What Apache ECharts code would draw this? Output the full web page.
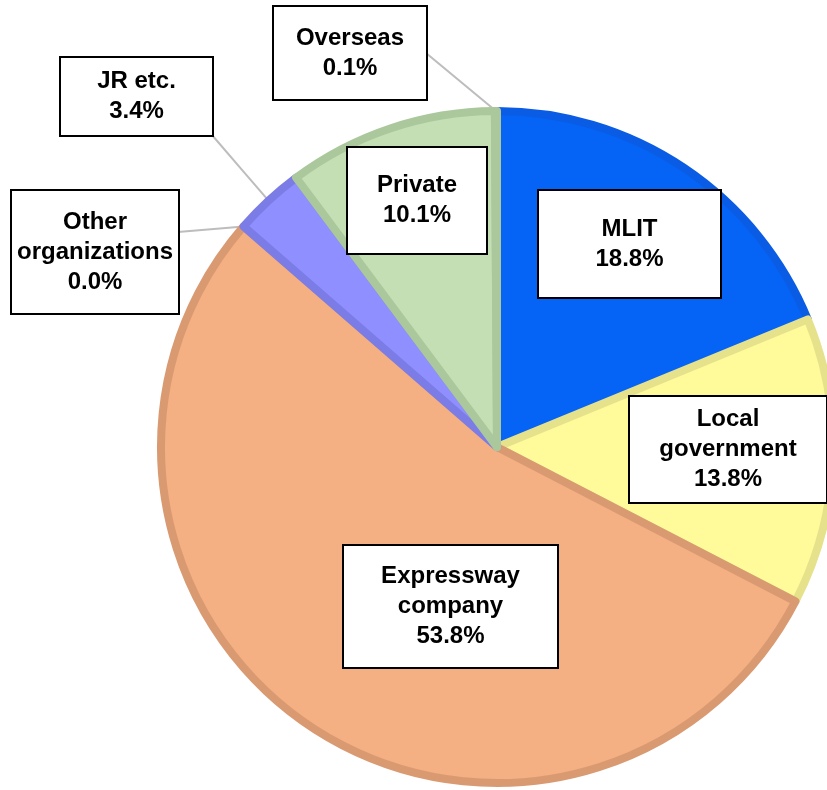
<!DOCTYPE html>
<html>
<head>
<meta charset="utf-8">
<title>Share by organization</title>
<script src="https://cdn.jsdelivr.net/npm/echarts@6/dist/echarts.min.js"></script>
<style>
  html, body { margin: 0; padding: 0; background: #ffffff; }
  #chart { width: 827px; height: 790px; }
</style>
</head>
<body>
<div id="chart"></div>
<script>
// Organizations, clockwise from the top of the pie
const categories = ['MLIT', 'Local government', 'Expressway company', 'Other organizations', 'JR etc.', 'Private', 'Overseas'];
// Text shown in each label box (line breaks as set in the boxes)
const labelNames = ['MLIT', 'Local\ngovernment', 'Expressway\ncompany', 'Other\norganizations', 'JR etc.', 'Private', 'Overseas'];
// Share of each organization, percent
const shares = [18.8, 13.8, 53.8, 0.0, 3.4, 10.1, 0.1];

// Slice fill and outline colours
const fillColors   = ['#0563f5', '#fffb9a', '#f4af82', '#f4af82', '#8f8fff', '#c5dfb5', '#c5dfb5'];
const borderColors = ['#0a5ce4', '#e6e28c', '#d99a72', '#d99a72', '#7c7ce6', '#abc89c', '#abc89c'];

// Label box placement: centre x, centre y, width, height (px)
const labelBoxes = [
  [629.5, 244, 181, 106],
  [728, 449.5, 196, 105],
  [450.5, 606.5, 213, 121],
  [95, 252, 166, 122],
  [136.5, 96.5, 151, 77],
  [417, 200.5, 138, 105],
  [350, 53, 152, 92]
];
// Where leader lines meet their label boxes (only for small slices)
const leaderEnds = { 3: [178, 232], 4: [212, 135], 6: [426, 53] };

const LINE_H = 30;
const CENTER = [497, 447];
const RADIUS = 336;
const BORDER_W = 8;

const data = categories.map((name, i) => {
  const [cx, cy, w, h] = labelBoxes[i];
  const lines = labelNames[i].split('\n').length + 1;
  const padV = Math.max(0, (h - lines * LINE_H) / 2);
  return {
    name: name,
    value: shares[i],
    itemStyle: {
      color: fillColors[i],
      borderColor: borderColors[i],
      borderWidth: shares[i] > 0 ? BORDER_W : 0
    },
    label: {
      width: w,
      padding: [padV, 0, Math.max(0, h - lines * LINE_H - padV), 0]
    },
    labelLine: { show: leaderEnds[i] != null }
  };
});

const chart = echarts.init(document.getElementById('chart'), null, { renderer: 'canvas' });

chart.setOption({
  backgroundColor: '#ffffff',
  animation: false,
  textStyle: { fontFamily: 'Liberation Sans, Arial, sans-serif' },
  series: [{
    type: 'pie',
    center: CENTER,
    radius: RADIUS,
    startAngle: 90,
    clockwise: true,
    avoidLabelOverlap: false,
    minShowLabelAngle: 0,
    itemStyle: { borderJoin: 'round' },
    label: {
      show: true,
      position: 'outside',
      formatter: (p) => labelNames[p.dataIndex] + '\n' + p.value.toFixed(1) + '%',
      color: '#000000',
      fontSize: 24,
      fontWeight: 'bold',
      fontFamily: 'Liberation Sans, Arial, sans-serif',
      lineHeight: LINE_H,
      align: 'center',
      overflow: 'none',
      backgroundColor: '#ffffff',
      borderColor: '#000000',
      borderWidth: 2
    },
    labelLine: {
      length: 10,
      length2: 10,
      lineStyle: { color: '#bdbdbd', width: 2 }
    },
    labelLayout: (params) => {
      const i = params.dataIndex;
      const [cx, cy] = labelBoxes[i];
      const out = { x: cx, y: cy, align: 'center', verticalAlign: 'middle' };
      const end = leaderEnds[i];
      if (end) {
        const start = (params.labelLinePoints && params.labelLinePoints.length)
          ? params.labelLinePoints[0] : end;
        out.labelLinePoints = [
          [start[0], start[1]],
          [(start[0] + end[0]) / 2, (start[1] + end[1]) / 2],
          [end[0], end[1]]
        ];
      }
      return out;
    },
    emphasis: { disabled: true },
    data: data
  }]
});
</script>
</body>
</html>
